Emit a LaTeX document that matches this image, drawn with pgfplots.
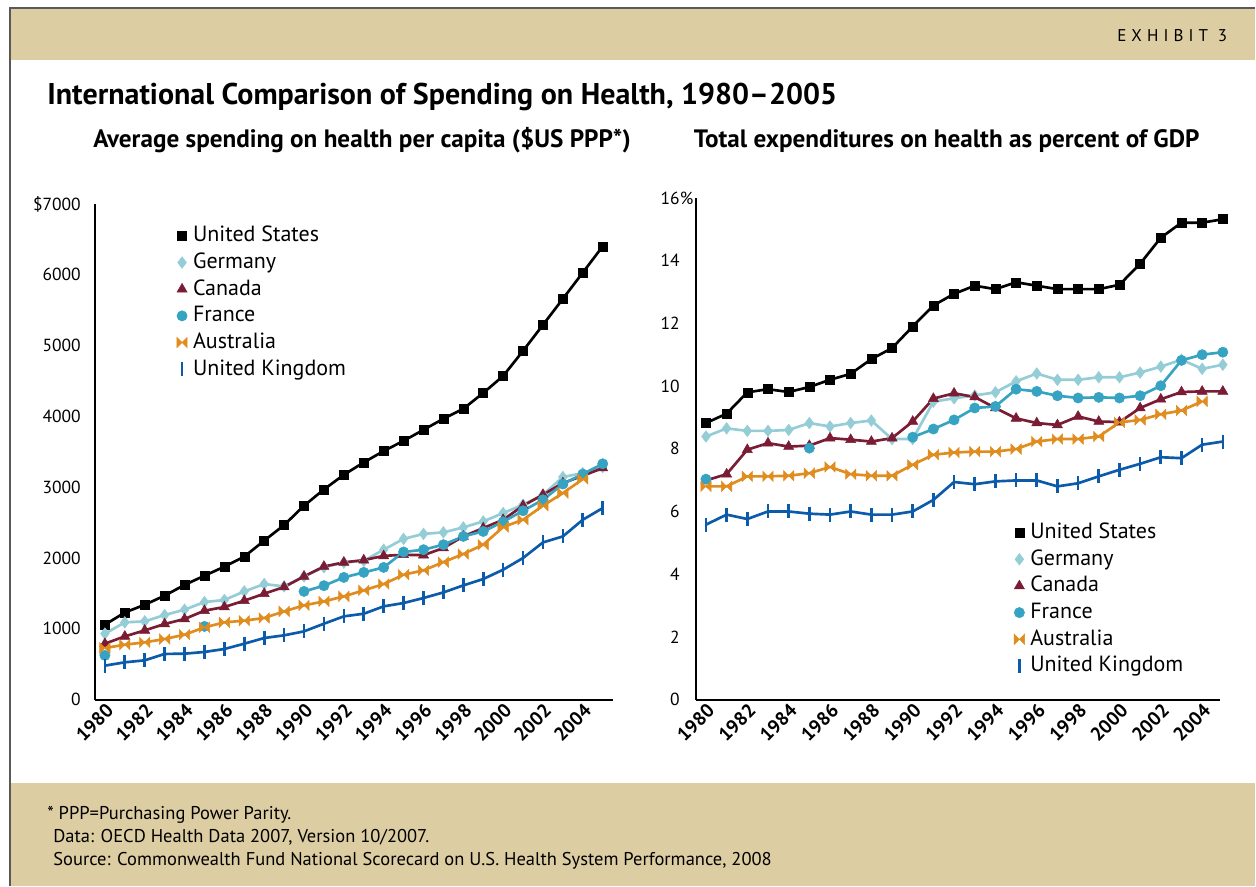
\documentclass[border=0pt]{standalone}
\usepackage{pgfplots}
\pgfplotsset{compat=1.18}
\usepackage{pgfplotstable}
\usepackage{fontspec}
\setmainfont{PT Sans}
\definecolor{beige}{HTML}{DCCDA2}
\definecolor{cDE}{HTML}{94CDD6}
\definecolor{cCA}{HTML}{7A1C34}
\definecolor{cFR}{HTML}{36A3C2}
\definecolor{cAU}{HTML}{E08C1E}
\definecolor{cUK}{HTML}{0B5BAA}
\pgfdeclareplotmark{bowtie}{%
  \pgfpathmoveto{\pgfqpoint{-\pgfplotmarksize}{\pgfplotmarksize}}%
  \pgfpathlineto{\pgfqpoint{\pgfplotmarksize}{-\pgfplotmarksize}}%
  \pgfpathlineto{\pgfqpoint{\pgfplotmarksize}{\pgfplotmarksize}}%
  \pgfpathlineto{\pgfqpoint{-\pgfplotmarksize}{-\pgfplotmarksize}}%
  \pgfpathclose
  \pgfusepathqfillstroke}

\pgfplotstableread{
year us de ca fr au uk
1980 1058 931 790 625 729 480
1981 1230 1091 893 nan 776 527
1982 1340 1105 978 nan 809 555
1983 1468 1195 1068 nan 856 645
1984 1620 1270 1139 nan 917 649
1985 1750 1378 1256 1034 1021 673
1986 1877 1407 1308 nan 1091 715
1987 2020 1528 1397 nan 1115 790
1988 2245 1632 1496 nan 1153 870
1989 2465 1599 1590 nan 1246 908
1990 2738 1740 1740 1528 1331 964
1991 2968 1870 1880 1609 1387 1072
1992 3175 1935 1938 1726 1458 1176
1993 3350 1960 1970 1797 1543 1213
1994 3510 2117 2030 1867 1632 1317
1995 3654 2270 2045 2085 1764 1364
1996 3810 2340 2040 2117 1825 1435
1997 3966 2362 2141 2188 1942 1514
1998 4107 2432 2305 2305 2056 1613
1999 4330 2516 2423 2375 2188 1703
2000 4570 2634 2540 2512 2437 1835
2001 4925 2752 2738 2667 2540 2000
2002 5292 2893 2893 2822 2738 2220
2003 5660 3143 3058 3044 2916 2305
2004 6030 3199 3161 3185 3114 2540
2005 6401 3283 3270 3330 nan 2705
}\percap

\pgfplotstableread{
year us de ca fr au uk
1980 8.82 8.39 6.99 7.03 6.80 5.58
1981 9.12 8.65 7.19 nan 6.80 5.90
1982 9.80 8.57 7.97 nan 7.12 5.76
1983 9.90 8.57 8.18 nan 7.12 6.00
1984 9.81 8.60 8.07 nan 7.14 6.00
1985 9.97 8.82 8.10 8.02 7.22 5.93
1986 10.20 8.71 8.34 nan 7.42 5.90
1987 10.39 8.82 8.29 nan 7.19 6.00
1988 10.86 8.90 8.23 nan 7.14 5.90
1989 11.21 8.31 8.34 nan 7.14 5.90
1990 11.90 8.31 8.87 8.37 7.49 6.00
1991 12.57 9.50 9.60 8.63 7.81 6.37
1992 12.94 9.61 9.77 8.92 7.88 6.94
1993 13.20 9.70 9.65 9.30 7.91 6.87
1994 13.09 9.80 9.30 9.35 7.91 6.96
1995 13.31 10.15 8.97 9.90 7.99 6.99
1996 13.20 10.40 8.82 9.83 8.23 6.99
1997 13.09 10.20 8.76 9.69 8.31 6.80
1998 13.09 10.20 9.03 9.62 8.31 6.90
1999 13.09 10.28 8.87 9.64 8.39 7.12
2000 13.23 10.28 8.85 9.62 8.84 7.33
2001 13.90 10.43 9.30 9.69 8.92 7.52
2002 14.73 10.62 9.58 10.01 9.10 7.73
2003 15.21 10.84 9.81 10.82 9.22 7.70
2004 15.21 10.55 9.83 11.00 9.51 8.13
2005 15.32 10.68 9.83 11.08 nan 8.23
}\pctgdp

\pgfplotsset{
  hc/.style={
    scale only axis, clip=false,
    axis x line*=bottom, axis y line*=left,
    axis line style={-, line width=1.3pt},
    every outer x axis line/.append style={-},
    every outer y axis line/.append style={-},
    major tick length=0pt,
    xmin=1979.5,
    xtick={1980,1982,...,2004},
    xticklabels={1980,1982,1984,1986,1988,1990,1992,1994,1996,1998,2000,2002,2004},
    x tick label style={rotate=45, anchor=north east, inner sep=1pt,
      font=\bfseries\fontsize{11.5}{12}\selectfont},
    y tick label style={font=\fontsize{10.5}{12}\selectfont},
    scaled y ticks=false,
    unbounded coords=jump,
    legend cell align=left,
    legend style={draw=none, fill=none, anchor=north west,
      font=\fontsize{13.2}{15}\selectfont, row sep=1pt,
      nodes={inner ysep=1.5pt, inner xsep=3.5pt, text height=9.5pt, text depth=2.5pt}},
    legend image code/.code={\draw[##1] plot[only marks] coordinates {(0pt,0pt)};},
    every axis plot/.append style={line width=1.6pt},
  },
  us/.style={color=black, mark=square*, mark size=2.7pt, mark options={solid, line width=0.3pt}},
  de/.style={color=cDE, mark=diamond*, mark size=3.5pt, mark options={solid, line width=0.3pt}},
  ca/.style={color=cCA, mark=triangle*, mark size=3.5pt, mark options={solid, line width=0.3pt}},
  fr/.style={color=cFR, mark=*, mark size=3.1pt, mark options={solid, line width=0.3pt}},
  au/.style={color=cAU, mark=bowtie, mark size=3.1pt, mark options={solid, line width=0.3pt}},
  uk/.style={color=cUK, mark=|, mark size=4.2pt, mark options={solid, line width=1.6pt}},
}

\begin{document}
\begin{tikzpicture}[x=0.6pt, y=0.6pt]
  % frame and bands
  \path (0,0) rectangle (1256,886);
  \fill[beige] (10,826) rectangle (1256,878);
  \fill[beige] (10,0) rectangle (1256,103);
  \draw[gray!70!black, line width=0.8pt] (10,0) -- (10,878) -- (1256,878);
  \node[anchor=east, inner sep=0pt, font=\fontsize{10.2}{12}\selectfont\addfontfeature{LetterSpace=30}] at (1228,850) {EXHIBIT 3};
  \node[anchor=base west, inner sep=0pt, font=\bfseries\fontsize{18}{21}\selectfont] at (47,781) {International Comparison of Spending on Health, 1980–2005};
  \node[anchor=base west, inner sep=0pt, font=\bfseries\fontsize{15.1}{17}\selectfont] at (93,738) {Average spending on health per capita (\$US PPP*)};
  \node[anchor=base west, inner sep=0pt, font=\bfseries\fontsize{15.1}{17}\selectfont] at (694,738) {Total expenditures on health as percent of GDP};
  \node[anchor=base west, inner sep=0pt, font=\fontsize{11.1}{13}\selectfont] at (47,66) {* PPP=Purchasing Power Parity.};
  \node[anchor=base west, inner sep=0pt, font=\fontsize{11.1}{13}\selectfont] at (53,43) {Data: OECD Health Data 2007, Version 10/2007.};
  \node[anchor=base west, inner sep=0pt, font=\fontsize{11.1}{13}\selectfont] at (53,20) {Source: Commonwealth Fund National Scorecard on U.S. Health System Performance, 2008};

  \begin{axis}[hc, at={(57pt,111.6pt)}, anchor=south west,
      width=310.8pt, height=297.6pt,
      xmax=2005.5, ymin=0, ymax=7000,
      ytick={0,1000,...,7000},
      yticklabels={0,1000,2000,3000,4000,5000,6000,\$7000},
      y tick label style={xshift=-5pt},
      legend style={at={(0.148,0.968)}}]
    \addplot[us] table[x=year, y=us] {\percap};
    \addplot[de] table[x=year, y=de] {\percap};
    \addplot[ca] table[x=year, y=ca] {\percap};
    \addplot[fr] table[x=year, y=fr] {\percap};
    \addplot[au] table[x=year, y=au] {\percap};
    \addplot[uk] table[x=year, y=uk] {\percap};
    \legend{United States, Germany, Canada, France, Australia, United Kingdom}
  \end{axis}

  \begin{axis}[hc, at={(417.6pt,111.6pt)}, anchor=south west,
      width=315pt, height=301.2pt,
      xmax=2004.88, ymin=0, ymax=16,
      ytick={0,2,...,16},
      yticklabels={0,2,4,6,8,10,12,14,16\rlap{\%}},
      y tick label style={xshift=-6pt},
      legend style={at={(0.597,0.365)}}]
    \addplot[us] table[x=year, y=us] {\pctgdp};
    \addplot[de] table[x=year, y=de] {\pctgdp};
    \addplot[ca] table[x=year, y=ca] {\pctgdp};
    \addplot[fr] table[x=year, y=fr] {\pctgdp};
    \addplot[au] table[x=year, y=au] {\pctgdp};
    \addplot[uk] table[x=year, y=uk] {\pctgdp};
    \legend{United States, Germany, Canada, France, Australia, United Kingdom}
  \end{axis}
\end{tikzpicture}
\end{document}
